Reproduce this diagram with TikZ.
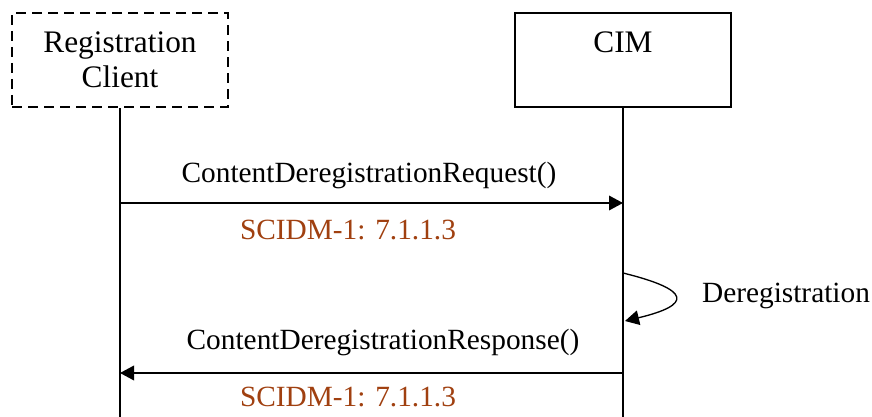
\documentclass[tikz,border=0pt]{standalone}
\usepackage{fontspec}
\setmainfont{Liberation Serif}
\usepackage{xcolor}
\usetikzlibrary{arrows.meta}
\definecolor{refbrown}{RGB}{160,64,16}

\begin{document}
\begin{tikzpicture}[x=0.75pt, y=-0.75pt, font=\fontsize{22}{26}\selectfont,
    actor/.style={draw, line width=1.6pt, minimum width=162pt, minimum height=70.5pt,
      align=center, font=\fontsize{23.5}{26.25}\selectfont},
    life/.style={line width=1.5pt},
    msg/.style={line width=1pt, -{Triangle[length=10.5pt, width=11pt]}},
    refnote/.style={text=refbrown}]
    \useasboundingbox (0,0) rectangle (872,417);
    % participants
    \node[actor, dash pattern=on 7.5pt off 4.5pt] (client) at (120,60) {Registration\\Client};
    \node[actor] (cim) at (623,60) {CIM\\\mbox{}};
    \coordinate (clientend) at (120,417);
    \coordinate (cimend) at (623,417);
    \draw[life] (client.south) -- (clientend);
    \draw[life] (cim.south) -- (cimend);
    % request
    \coordinate (reqa) at (120,203);
    \coordinate (reqb) at (623,203);
    \draw[msg] (reqa) -- (reqb);
    \node (reqlabel) at (369,175) {ContentDeregistrationRequest()};
    \node[refnote] (reqref) at (348,230) {SCIDM-1: 7.1.1.3};
    % self call
    \coordinate (loopa) at (623,273);
    \coordinate (loopb) at (625,321);
    \draw[msg] (loopa) .. controls (692,290) and (692,305) .. (loopb);
    \node (loopname) at (786,296) {Deregistration};
    % response
    \coordinate (resa) at (623,373);
    \coordinate (resb) at (120,373);
    \draw[msg] (resa) -- (resb);
    \node (reslabel) at (383,342) {ContentDeregistrationResponse()};
    \node[refnote] (resref) at (348,397) {SCIDM-1: 7.1.1.3};
\end{tikzpicture}
\end{document}
